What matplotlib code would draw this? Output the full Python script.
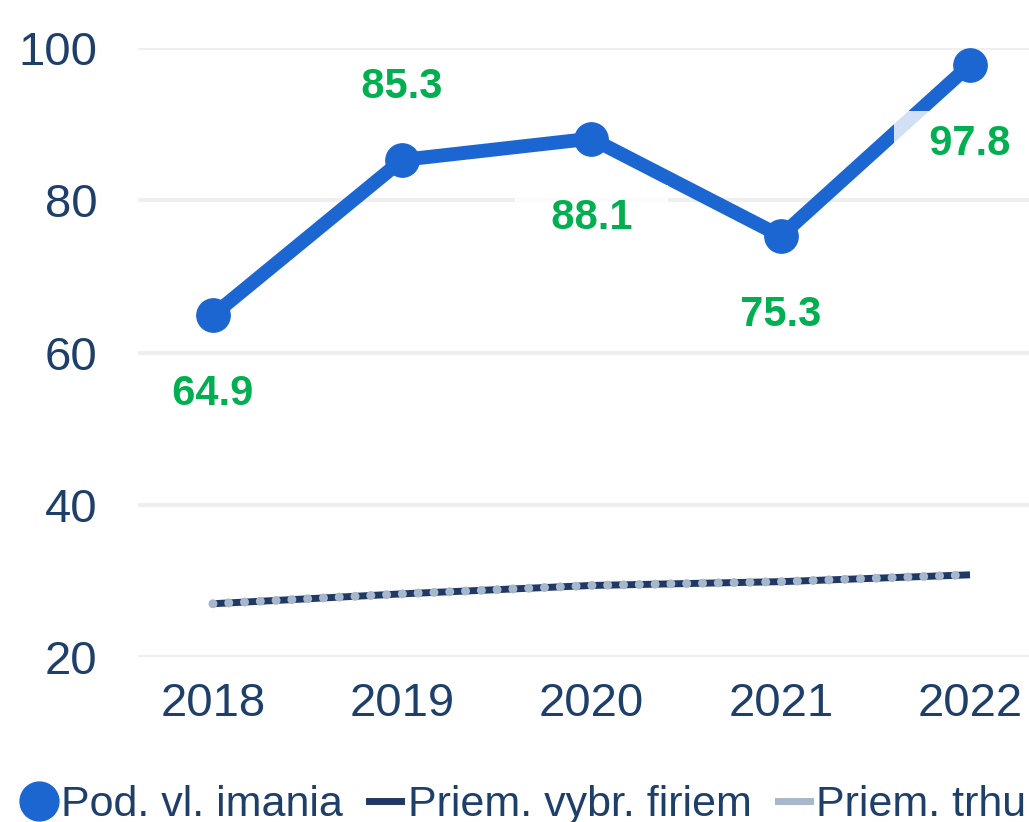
import matplotlib
matplotlib.use("Agg")
import matplotlib.pyplot as plt
from matplotlib.lines import Line2D

plt.rcParams['font.family'] = ['Liberation Sans', 'DejaVu Sans']

years = ['2018', '2019', '2020', '2021', '2022']
pod_vl_imania = [64.9, 85.3, 88.1, 75.3, 97.8]
priem_vybr = [27.0, 28.3, 29.4, 29.9, 30.8]
priem_trhu = [27.0, 28.3, 29.4, 29.9, 30.8]
label_pos = ['below', 'above', 'below', 'below', 'below']

blue = '#1c66d2'
navy = '#203864'
light = '#a7b7cc'
green = '#00b050'
txt = '#1f3f6b'

fig = plt.figure(figsize=(10.29, 8.22), dpi=100)
ax = fig.add_axes([0.1341, 0.2007, 0.8814, 0.7409])

x = list(range(len(years)))
ax.plot(x, priem_vybr, color=navy, lw=5, solid_capstyle='butt', zorder=3)
ax.plot(x, priem_trhu, color=light, lw=6.5, linestyle=(0, (0.001, 1.75)),
        dash_capstyle='round', zorder=4)
ax.plot(x, pod_vl_imania, color=blue, lw=10, marker='o', markersize=24,
        solid_joinstyle='round', zorder=5, clip_on=False)

for xi, v, pos in zip(x, pod_vl_imania, label_pos):
    dy = 73 if pos == 'above' else -79
    ax.annotate('  %.1f  ' % v, (xi, v), xytext=(0, dy), textcoords='offset pixels',
                ha='center', va='center', color=green, fontsize=30, fontweight='bold',
                bbox=dict(boxstyle='square,pad=0.3', fc='white', ec='none', alpha=0.8),
                zorder=6)

ax.set_xlim(-0.396, 4.396)
ax.set_ylim(20, 100)
ax.set_yticks([20, 40, 60, 80, 100])
ax.set_xticks(x)
ax.set_xticklabels(years)
ax.grid(axis='y', color='#efefef', lw=3)
ax.set_axisbelow(True)
for s in ax.spines.values():
    s.set_visible(False)
ax.tick_params(axis='both', length=0, labelsize=34, labelcolor=txt)
ax.tick_params(axis='y', pad=29)
ax.tick_params(axis='x', pad=18)

handles = [
    Line2D([], [], color=blue, marker='o', linestyle='none', markersize=28),
    Line2D([], [], color=navy, lw=5),
    Line2D([], [], color=light, lw=5),
]
fig.legend(handles, ['Pod. vl. imania', 'Priem. vybr. firiem', 'Priem. trhu'],
           loc='center left', bbox_to_anchor=(0.022, 0.021), ncol=3, frameon=False,
           fontsize=31, labelcolor=txt, handlelength=0.75, handletextpad=0.15,
           columnspacing=0.6, borderpad=0, borderaxespad=0)

fig.savefig('out.png', dpi=100)
